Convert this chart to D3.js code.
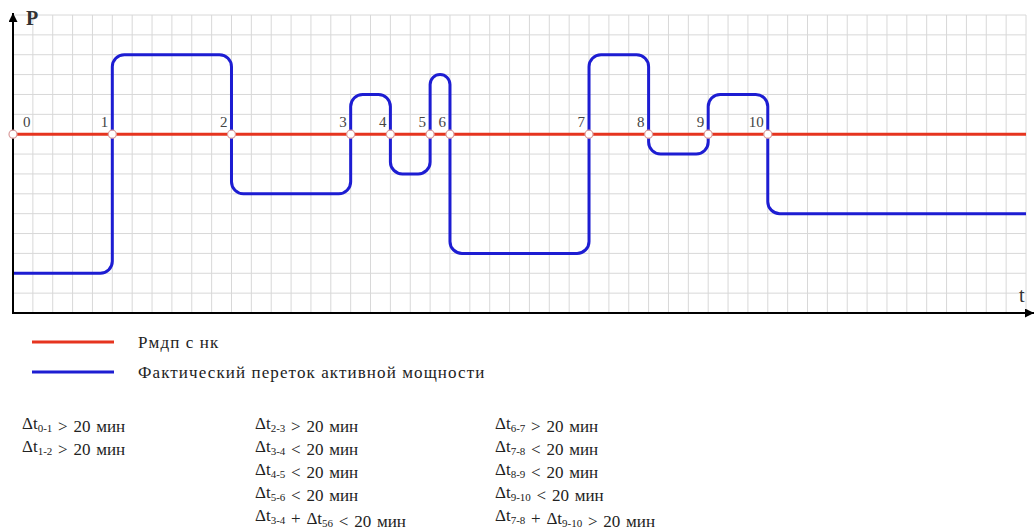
<!DOCTYPE html>
<html>
<head>
<meta charset="utf-8">
<script src="https://cdn.jsdelivr.net/npm/d3@7"></script>
<style>
  body { margin: 0; background: #fff; }
</style>
</head>
<body>
<svg width="1034" height="530"></svg>
<script>
// crossing points of the actual flow with the limit line (grid cells along t)
var crossLabels = ['0', '1', '2', '3', '4', '5', '6', '7', '8', '9', '10'];
var crossT = [0, 5, 11, 17, 19, 21, 22, 29, 32, 35, 38];
// power level (grid cells, relative to the limit) held after each crossing
var flowLevels = [-7, 4, -3, 2, -2, 3, -6, 4, -1, 2, -4];
var tEnd = 51;
var limitLevel = 0;

var legendNames = ['Рмдп с нк', 'Фактический переток активной мощности'];

// condition lines, {..} is subscript
var condCol1 = ['Δt{0-1} > 20 мин', 'Δt{1-2} > 20 мин'];
var condCol2 = ['Δt{2-3} > 20 мин', 'Δt{3-4} < 20 мин', 'Δt{4-5} < 20 мин', 'Δt{5-6} < 20 мин', 'Δt{3-4} + Δt{56} < 20 мин'];
var condCol3 = ['Δt{6-7} > 20 мин', 'Δt{7-8} < 20 мин', 'Δt{8-9} < 20 мин', 'Δt{9-10} < 20 мин', 'Δt{7-8} + Δt{9-10} > 20 мин'];

var RED = '#e6341f', BLUE = '#1d1dd2';
var FONT = "'Liberation Serif', 'Times New Roman', 'DejaVu Serif', serif";

var svg = d3.select('svg').attr('font-family', FONT);

var x = d3.scaleLinear().domain([0, tEnd]).range([13, 1026]);
var y = d3.scaleLinear().domain([-9, 6]).range([313, 15]);

// grid
var grid = svg.append('g').attr('stroke', '#d8d8d8').attr('stroke-width', 1);
grid.selectAll('line.v')
    .data(d3.range(0, tEnd + 1))
    .enter().append('line')
    .attr('x1', function(d) { return x(d); })
    .attr('x2', function(d) { return x(d); })
    .attr('y1', y(6)).attr('y2', y(-9));
grid.selectAll('line.h')
    .data(d3.range(-9, 7))
    .enter().append('line')
    .attr('x1', x(0)).attr('x2', x(tEnd))
    .attr('y1', function(d) { return y(d); })
    .attr('y2', function(d) { return y(d); });

// limit line
svg.append('line')
    .attr('x1', x(0)).attr('x2', x(tEnd))
    .attr('y1', y(limitLevel)).attr('y2', y(limitLevel))
    .attr('stroke', RED).attr('stroke-width', 3);

// actual flow: step line with rounded corners
var pts = [[x(0), y(flowLevels[0])]];
for (var i = 1; i < crossT.length; i++) {
    pts.push([x(crossT[i]), y(flowLevels[i - 1])]);
    pts.push([x(crossT[i]), y(flowLevels[i])]);
}
pts.push([x(tEnd), y(flowLevels[flowLevels.length - 1])]);

var p = d3.path();
p.moveTo(pts[0][0], pts[0][1]);
for (var k = 1; k < pts.length - 1; k++) {
    var a = pts[k - 1], b = pts[k], c = pts[k + 1];
    var l1 = Math.hypot(b[0] - a[0], b[1] - a[1]);
    var l2 = Math.hypot(c[0] - b[0], c[1] - b[1]);
    var r = Math.min(12, l1 / 2, l2 / 2);
    p.arcTo(b[0], b[1], c[0], c[1], r);
}
p.lineTo(pts[pts.length - 1][0], pts[pts.length - 1][1]);

svg.append('path')
    .attr('d', p.toString())
    .attr('fill', 'none')
    .attr('stroke', BLUE)
    .attr('stroke-width', 3);

// axes with arrows
svg.append('defs').append('marker')
    .attr('id', 'arr')
    .attr('viewBox', '0 0 10 10')
    .attr('refX', 10).attr('refY', 5)
    .attr('markerWidth', 14).attr('markerHeight', 9)
    .attr('markerUnits', 'userSpaceOnUse')
    .attr('orient', 'auto')
    .append('path').attr('d', 'M0,0L10,5L0,10z').attr('fill', '#000');

svg.append('line')
    .attr('x1', x(0)).attr('y1', y(-9))
    .attr('x2', x(0)).attr('y2', 13)
    .attr('stroke', '#000').attr('stroke-width', 2)
    .attr('marker-end', 'url(#arr)');
svg.append('line')
    .attr('x1', x(0) - 1).attr('y1', y(-9))
    .attr('x2', 1034).attr('y2', y(-9))
    .attr('stroke', '#000').attr('stroke-width', 2)
    .attr('marker-end', 'url(#arr)');

svg.append('text').attr('x', 26).attr('y', 25)
    .attr('font-size', 20).attr('font-weight', 'bold').attr('fill', '#333').text('P');
svg.append('text').attr('x', 1019).attr('y', 302)
    .attr('font-size', 20).attr('fill', '#333').text('t');

// crossing markers and labels
svg.selectAll('circle.cross')
    .data(crossT)
    .enter().append('circle')
    .attr('cx', function(d) { return x(d); })
    .attr('cy', y(limitLevel))
    .attr('r', 4)
    .attr('fill', '#fff')
    .attr('stroke', '#d99a9a')
    .attr('stroke-width', 1.2);

svg.selectAll('text.cross')
    .data(crossT)
    .enter().append('text')
    .attr('x', function(d, i) { return i == 0 ? x(d) + 10 : x(d) - 4; })
    .attr('y', y(limitLevel) - 7)
    .attr('text-anchor', function(d, i) { return i == 0 ? 'start' : 'end'; })
    .attr('font-size', 15)
    .attr('fill', '#444')
    .text(function(d, i) { return crossLabels[i]; });

// legend
var legend = svg.append('g');
legend.selectAll('line')
    .data([RED, BLUE])
    .enter().append('line')
    .attr('x1', 32).attr('x2', 114)
    .attr('y1', function(d, i) { return 342 + i * 30; })
    .attr('y2', function(d, i) { return 342 + i * 30; })
    .attr('stroke', function(d) { return d; })
    .attr('stroke-width', 3);
legend.selectAll('text')
    .data(legendNames)
    .enter().append('text')
    .attr('x', 138)
    .attr('y', function(d, i) { return 348 + i * 30; })
    .attr('font-size', 17)
    .attr('letter-spacing', 1.1)
    .attr('fill', '#222')
    .text(function(d) { return d; });

// conditions
function drawColumn(lines, x0) {
    var g = svg.append('g');
    lines.forEach(function(line, i) {
        var t = g.append('text')
            .attr('x', x0)
            .attr('y', 429 + i * 23)
            .attr('font-size', 17)
            .attr('word-spacing', 1.5)
            .attr('fill', '#222');
        line.split(/(\{[^}]*\})/).forEach(function(part) {
            if (!part) return;
            if (part[0] == '{') {
                t.append('tspan').attr('font-size', 11).attr('dy', 3)
                    .text(part.slice(1, -1));
                t.append('tspan').attr('dy', -3).text('');
            } else {
                t.append('tspan').text(part);
            }
        });
    });
}
drawColumn(condCol1, 22);
drawColumn(condCol2, 255);
drawColumn(condCol3, 495);
</script>
</body>
</html>
